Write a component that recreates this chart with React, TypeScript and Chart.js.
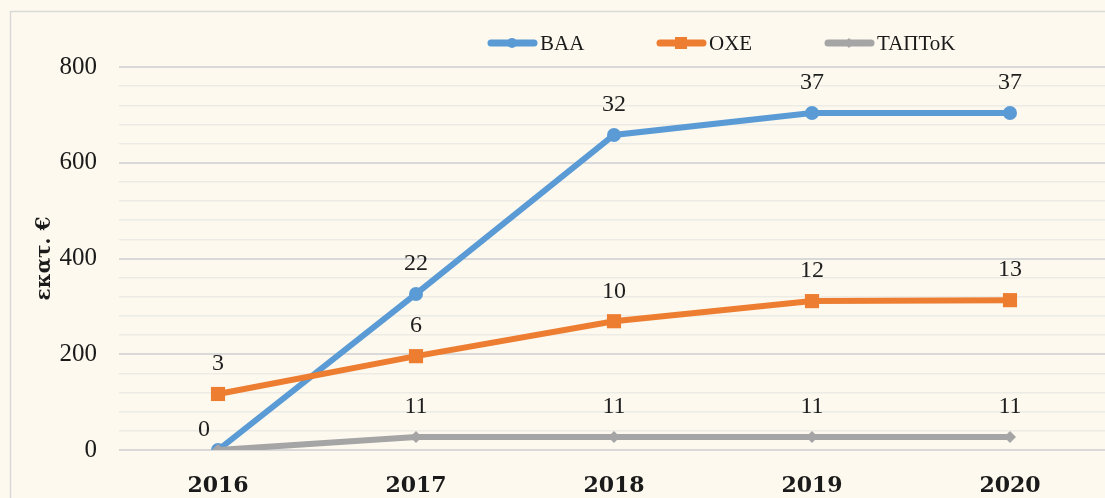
import React, { useEffect, useRef } from "react";
import { Chart, registerables } from "chart.js";

Chart.register(...registerables);

const years = ["2016", "2017", "2018", "2019", "2020"];
const seriesNames = ["ΒΑΑ", "ΟΧΕ", "ΤΑΠΤοΚ"];
const baaValues = [0, 326, 658, 704, 704];
const oxeValues = [117, 196, 269, 311, 313];
const taptokValues = [0, 27, 27, 27, 27];
const baaLabels = ["0", "22", "32", "37", "37"];
const oxeLabels = ["3", "6", "10", "12", "13"];
const taptokLabels = ["", "11", "11", "11", "11"];
const yTicks = [0, 200, 400, 600, 800];
const yTitle = "εκατ. €";

const colors = ["#5B9BD5", "#ED7D31", "#A5A5A5"];
const pointStyles = ["circle", "rect", "rectRot"];
const pointRadii = [7, 10, 6];
const BG = "#FDF9EE";

export default function App() {
  const ref = useRef<HTMLCanvasElement | null>(null);
  useEffect(() => {
    document.body.style.margin = "0";
    document.body.style.overflow = "hidden";
    document.body.style.background = BG;
    const canvas = ref.current!;
    const labelSets = [baaLabels, oxeLabels, taptokLabels];

    const bgPlugin = {
      id: "bg",
      beforeDraw(chart: any) {
        const ctx = chart.ctx;
        ctx.save();
        ctx.fillStyle = BG;
        ctx.fillRect(0, 0, chart.width, chart.height);
        ctx.strokeStyle = "#D9D9D9";
        ctx.lineWidth = 1.5;
        ctx.strokeRect(10.5, 11.5, chart.width + 20, chart.height + 20);
        ctx.restore();
      },
    };

    const labelPlugin = {
      id: "pointLabels",
      afterDatasetsDraw(chart: any) {
        const ctx = chart.ctx;
        ctx.save();
        ctx.font = "24px 'Liberation Serif'";
        ctx.fillStyle = "#1f1f1f";
        ctx.textAlign = "center";
        ctx.textBaseline = "middle";
        chart.data.datasets.forEach((ds: any, i: number) => {
          const meta = chart.getDatasetMeta(i);
          meta.data.forEach((pt: any, j: number) => {
            const txt = labelSets[i][j];
            if (!txt) return;
            const v = ds.data[j];
            if (v === 0) {
              ctx.fillText(txt, pt.x - 14, pt.y - 20);
            } else {
              ctx.fillText(txt, pt.x, pt.y - 30);
            }
          });
        });
        ctx.restore();
      },
    };

    const legendPlugin = {
      id: "customLegend",
      afterDraw(chart: any) {
        const ctx = chart.ctx;
        const starts = [488, 657, 825];
        const y = 43;
        ctx.save();
        chart.data.datasets.forEach((ds: any, i: number) => {
          const x0 = starts[i];
          ctx.strokeStyle = ds.borderColor;
          ctx.lineWidth = 7;
          ctx.lineCap = "round";
          ctx.beginPath();
          ctx.moveTo(x0 + 3, y);
          ctx.lineTo(x0 + 46, y);
          ctx.stroke();
          ctx.fillStyle = ds.borderColor;
          const cx = x0 + 24;
          ctx.beginPath();
          if (i === 0) {
            ctx.arc(cx, y, 5, 0, Math.PI * 2);
          } else if (i === 1) {
            ctx.rect(cx - 6, y - 6, 12, 12);
          } else {
            ctx.moveTo(cx, y - 5);
            ctx.lineTo(cx + 5, y);
            ctx.lineTo(cx, y + 5);
            ctx.lineTo(cx - 5, y);
            ctx.closePath();
          }
          ctx.fill();
          ctx.fillStyle = "#1a1a1a";
          ctx.font = "21px 'Liberation Serif'";
          ctx.textAlign = "left";
          ctx.textBaseline = "middle";
          ctx.fillText(ds.label, x0 + 52, y + 1);
        });
        ctx.restore();
      },
    };

    const values = [baaValues, oxeValues, taptokValues];
    const chart = new Chart(canvas, {
      type: "line",
      data: {
        labels: years,
        datasets: seriesNames.map((name, i) => ({
          label: name,
          data: values[i],
          borderColor: colors[i],
          backgroundColor: colors[i],
          pointBackgroundColor: colors[i],
          pointBorderColor: colors[i],
          pointStyle: pointStyles[i] as any,
          pointRadius: pointRadii[i],
          pointBorderWidth: 0,
          borderWidth: 6,
          tension: 0,
          order: 2 - i,
        })),
      },
      options: {
        animation: false,
        responsive: false,
        maintainAspectRatio: false,
        layout: { padding: { left: 0, top: 67, right: 11, bottom: 0 } },
        plugins: {
          legend: { display: false },
          tooltip: { enabled: false },
        },
        scales: {
          x: {
            offset: true,
            grid: { display: false, drawTicks: false },
            border: { display: false },
            ticks: {
              padding: 23,
              color: "#1a1a1a",
              font: { family: "'DejaVu Serif'", weight: "bold", size: 22 },
            },
            afterFit: (s: any) => {
              s.height = 48;
            },
          },
          y: {
            min: 0,
            max: 800,
            border: { display: false },
            grid: {
              drawTicks: false,
              color: (c: any) =>
                yTicks.includes(c.tick.value) ? "#D9D9D9" : "#EDEBE6",
              lineWidth: (c: any) => (yTicks.includes(c.tick.value) ? 2 : 1.5),
            },
            ticks: {
              stepSize: 40,
              autoSkip: false,
              padding: 22,
              color: "#1a1a1a",
              font: { family: "'Liberation Serif'", size: 25 },
              callback: (v: any) => (yTicks.includes(Number(v)) ? String(v) : ""),
            },
            title: {
              display: true,
              text: yTitle,
              color: "#1a1a1a",
              font: { family: "'DejaVu Serif'", weight: "bold", size: 20 },
              padding: { top: 33, bottom: 0 },
            },
            afterFit: (s: any) => {
              s.width = 119;
            },
          },
        },
      },
      plugins: [bgPlugin, labelPlugin, legendPlugin],
    });
    return () => chart.destroy();
  }, []);

  return (
    <div style={{ position: "fixed", left: 0, top: 0, width: 1120, height: 498 }}>
      <canvas ref={ref} width={1120} height={498} style={{ width: 1120, height: 498 }} />
    </div>
  );
}
